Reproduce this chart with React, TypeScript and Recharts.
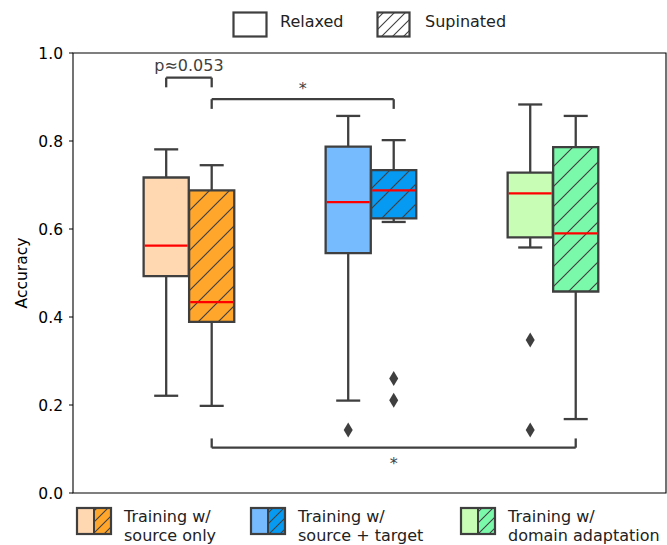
import React from "react";
import {
  ComposedChart,
  XAxis,
  YAxis,
  Scatter,
  ReferenceArea,
  ReferenceLine,
  ReferenceDot,
  Label,
} from "recharts";

// categories
const groups = ["source only", "source + target", "domain adaptation"];
const conditions = ["Relaxed", "Supinated"];

// box stats per group (whisker low, Q1, median, Q3, whisker high)
const relaxedLow = [0.221, 0.21, 0.558];
const relaxedQ1 = [0.493, 0.545, 0.581];
const relaxedMedian = [0.562, 0.661, 0.681];
const relaxedQ3 = [0.717, 0.787, 0.728];
const relaxedHigh = [0.781, 0.857, 0.883];
const relaxedOutliers = [[], [0.143], [0.348, 0.143]];

const supinatedLow = [0.198, 0.616, 0.168];
const supinatedQ1 = [0.389, 0.624, 0.458];
const supinatedMedian = [0.434, 0.688, 0.59];
const supinatedQ3 = [0.688, 0.734, 0.786];
const supinatedHigh = [0.745, 0.802, 0.857];
const supinatedOutliers = [[], [0.26, 0.211], []];

const relaxedColors = ["#ffd8b1", "#75bbfd", "#c7fdb5"];
const supinatedColors = ["#ffa62b", "#069af3", "#7af9ab"];

const yTicks = [0, 0.2, 0.4, 0.6, 0.8, 1.0];

// significance annotations
const brackets = [
  { x1: -0.125, x2: 0.125, y: 0.944, leg: 0.922 },
  { x1: 0.125, x2: 1.125, y: 0.895, leg: 0.873 },
  { x1: 0.125, x2: 2.125, y: 0.103, leg: 0.124 },
];
const annotations = [
  { x: 0, y: 0.959, text: "p≈0.053" },
  { x: 0.625, y: 0.907, text: "*" },
  { x: 1.125, y: 0.055, text: "*" },
];

const W = 667;
const H = 545;
const FONT = "'DejaVu Sans', sans-serif";
const FS = 15.5;
const LFS = 16;
const EDGE = "#3f3f3f";
const OFF = 0.125;
const HALF = 0.124;
const CAP = 0.066;

const boxes = groups.flatMap((g, i) => [
  {
    key: `r${i}`, c: i - OFF, lo: relaxedLow[i], q1: relaxedQ1[i], med: relaxedMedian[i],
    q3: relaxedQ3[i], hi: relaxedHigh[i], fill: relaxedColors[i], hatch: false,
  },
  {
    key: `s${i}`, c: i + OFF, lo: supinatedLow[i], q1: supinatedQ1[i], med: supinatedMedian[i],
    q3: supinatedQ3[i], hi: supinatedHigh[i], fill: supinatedColors[i], hatch: true,
  },
]);

const outlierPoints = groups.flatMap((g, i) => [
  ...relaxedOutliers[i].map((y) => ({ x: i - OFF, y })),
  ...supinatedOutliers[i].map((y) => ({ x: i + OFF, y })),
]);

const Diamond = (props: any) => {
  const { cx, cy } = props;
  if (cx == null || cy == null) return null;
  return (
    <polygon
      points={`${cx},${cy - 7.5} ${cx + 4.5},${cy} ${cx},${cy + 7.5} ${cx - 4.5},${cy}`}
      fill={EDGE}
    />
  );
};

const YLabel = (props: any) => {
  const vb = props.viewBox || { x: 0, y: 53, height: 440 };
  const x = vb.x + 27;
  const y = vb.y + vb.height / 2;
  return (
    <text x={x} y={y} transform={`rotate(-90 ${x} ${y})`} textAnchor="middle" fontSize={FS} fill="#000">
      Accuracy
    </text>
  );
};

const areas: any[] = [];
const lines: any[] = [];
boxes.forEach((b) => {
  areas.push(
    <ReferenceArea key={`${b.key}f`} x1={b.c - HALF} x2={b.c + HALF} y1={b.q1} y2={b.q3}
      fill={b.fill} fillOpacity={1} stroke="none" ifOverflow="visible" />
  );
  if (b.hatch) {
    areas.push(
      <ReferenceArea key={`${b.key}h`} x1={b.c - HALF} x2={b.c + HALF} y1={b.q1} y2={b.q3}
        fill="url(#hatch)" fillOpacity={1} stroke="none" ifOverflow="visible" />
    );
  }
  areas.push(
    <ReferenceArea key={`${b.key}o`} x1={b.c - HALF} x2={b.c + HALF} y1={b.q1} y2={b.q3}
      fill="none" stroke={EDGE} strokeWidth={2.3} ifOverflow="visible" />
  );
  const seg = (k: string, pts: any, color = EDGE) =>
    lines.push(
      <ReferenceLine key={`${b.key}${k}`} segment={pts} stroke={color} strokeWidth={2.3}
        strokeOpacity={1} ifOverflow="visible" />
    );
  seg("wh", [{ x: b.c, y: b.q3 }, { x: b.c, y: b.hi }]);
  seg("wl", [{ x: b.c, y: b.q1 }, { x: b.c, y: b.lo }]);
  seg("ch", [{ x: b.c - CAP, y: b.hi }, { x: b.c + CAP, y: b.hi }]);
  seg("cl", [{ x: b.c - CAP, y: b.lo }, { x: b.c + CAP, y: b.lo }]);
  seg("md", [{ x: b.c - HALF + 0.006, y: b.med }, { x: b.c + HALF - 0.006, y: b.med }], "#ff0000");
});

brackets.forEach((br, i) => {
  lines.push(
    <ReferenceLine key={`b${i}a`} segment={[{ x: br.x1, y: br.leg }, { x: br.x1, y: br.y }]}
      stroke={EDGE} strokeWidth={2.3} strokeOpacity={1} ifOverflow="visible" />,
    <ReferenceLine key={`b${i}b`} segment={[{ x: br.x1, y: br.y }, { x: br.x2, y: br.y }]}
      stroke={EDGE} strokeWidth={2.3} strokeOpacity={1} ifOverflow="visible" />,
    <ReferenceLine key={`b${i}c`} segment={[{ x: br.x2, y: br.y }, { x: br.x2, y: br.leg }]}
      stroke={EDGE} strokeWidth={2.3} strokeOpacity={1} ifOverflow="visible" />
  );
});

const LegendPatch = ({ x, y, w, h, left, right, hatchAll }: any) => (
  <g>
    {left ? (
      <>
        <rect x={x} y={y} width={w / 2} height={h} fill={left} />
        <rect x={x + w / 2} y={y} width={w / 2} height={h} fill={right} />
        <rect x={x + w / 2} y={y} width={w / 2} height={h} fill="url(#hatchSmall)" />
        <line x1={x + w / 2} y1={y} x2={x + w / 2} y2={y + h} stroke={EDGE} strokeWidth={2} />
      </>
    ) : (
      <>
        <rect x={x} y={y} width={w} height={h} fill="#fff" />
        {hatchAll && <rect x={x} y={y} width={w} height={h} fill="url(#hatchSmall)" />}
      </>
    )}
    <rect x={x} y={y} width={w} height={h} fill="none" stroke={EDGE} strokeWidth={2.2} />
  </g>
);

const bottomLegendX = [77, 251, 461];

export default function App() {
  return (
    <div style={{ position: "absolute", left: 0, top: 0, width: W, height: H, fontFamily: FONT, background: "#fff" }}>
      <ComposedChart width={W} height={H} margin={{ top: 53, right: 1, bottom: 52, left: 0 }}>
        <XAxis type="number" dataKey="x" domain={[-0.637, 2.621]} hide height={0} allowDataOverflow />
        <YAxis
          type="number"
          dataKey="y"
          domain={[0, 1]}
          ticks={yTicks}
          interval={0}
          width={73}
          axisLine={false}
          stroke="#000"
          tickSize={4}
          tickMargin={6}
          tick={{ fill: "#000", fontSize: FS }}
          tickFormatter={(v: number) => v.toFixed(1)}
        >
          <Label content={YLabel} />
        </YAxis>
        {areas}
        {lines}
        <ReferenceArea x1={-0.637} x2={2.621} y1={0} y2={1} fill="none" stroke="#000" strokeWidth={1.1} ifOverflow="visible" />
        <Scatter data={outlierPoints} shape={Diamond} isAnimationActive={false} />
        {annotations.map((a, i) => (
          <ReferenceDot
            key={`t${i}`}
            x={a.x}
            y={a.y}
            r={0}
            ifOverflow="visible"
            shape={(p: any) => (
              <text x={p.cx} y={p.cy} textAnchor="middle" fontSize={LFS} fill={EDGE}>
                {a.text}
              </text>
            )}
          />
        ))}
      </ComposedChart>
      <svg width={W} height={H} style={{ position: "absolute", left: 0, top: 0, pointerEvents: "none" }}>
        <defs>
          <pattern id="hatch" patternUnits="userSpaceOnUse" width={20} height={20}>
            <path d="M-5,5 L5,-5 M0,20 L20,0 M15,25 L25,15" stroke={EDGE} strokeWidth={1.2} />
          </pattern>
          <pattern id="hatchSmall" patternUnits="userSpaceOnUse" width={11} height={11}>
            <path d="M-3,3 L3,-3 M0,11 L11,0 M8,14 L14,8" stroke={EDGE} strokeWidth={1.1} />
          </pattern>
        </defs>
        <LegendPatch x={233.5} y={12.5} w={33} h={24} />
        <text x={280} y={27.3} fontSize={LFS} fill="#222">{conditions[0]}</text>
        <LegendPatch x={377.5} y={12.5} w={32} h={24} hatchAll />
        <text x={425} y={27.3} fontSize={LFS} fill="#222">{conditions[1]}</text>
        {groups.map((g, i) => (
          <g key={g}>
            <LegendPatch x={bottomLegendX[i]} y={508} w={34} h={26} left={relaxedColors[i]} right={supinatedColors[i]} />
            <text x={bottomLegendX[i] + 47} y={522} fontSize={LFS} fill="#222">Training w/</text>
            <text x={bottomLegendX[i] + 47} y={540.5} fontSize={LFS} fill="#222">{g}</text>
          </g>
        ))}
      </svg>
    </div>
  );
}
